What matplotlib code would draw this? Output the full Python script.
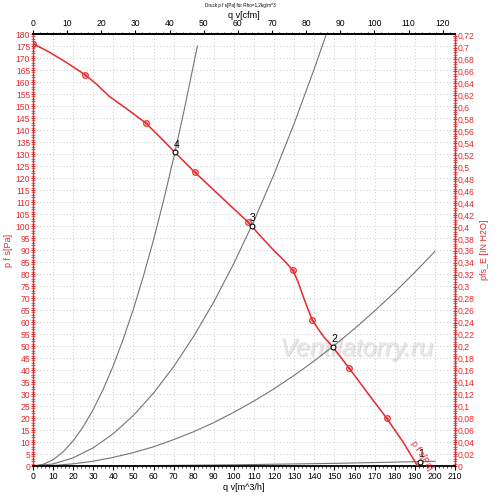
import matplotlib.pyplot as plt
import matplotlib.ticker as mticker
import matplotlib.patheffects as pe

plt.rcParams['font.family'] = ['Liberation Sans', 'DejaVu Sans']

# fan curve p f s [Pa] vs q v [m^3/h]
fan_q = [0, 8, 15, 26, 32, 38, 47, 56, 63, 70.6, 80.4, 94, 106.8, 113, 119.6, 124.5,
         129.4, 132, 134.5, 137, 139, 142, 145, 149.1, 157.4, 166, 176, 184, 191.4]
fan_p = [176, 172.5, 169, 163, 158.8, 154, 148.6, 143, 137.2, 130.7, 122.5, 111.8, 101.8,
         96, 90, 86, 81.5, 76.5, 70.5, 65, 60.8, 57, 53.5, 49.7, 40.7, 31, 19.9, 10.2, 0]
mark_q = [0, 26, 56, 80.4, 106.8, 129.4, 139, 157.4, 176]
mark_p = [176, 163, 143, 122.5, 101.8, 81.5, 60.8, 40.7, 19.9]

# system curves
sys4_q = [0, 5, 10, 15, 20, 25, 30, 35, 40, 45, 50, 55, 60, 65, 70, 75, 80, 81.8]
sys4_p = [0, 0.66, 2.6, 5.9, 10.5, 16.4, 23.6, 32.1, 41.9, 53.1, 65.5, 79.3, 94.3, 110.7, 128.4, 147.4, 167.7, 175]
sys3_q = [0, 10, 20, 30, 40, 50, 60, 70, 80, 90, 100, 110, 120, 130, 140, 146]
sys3_p = [0, 0.85, 3.4, 7.6, 13.5, 21.1, 30.4, 41.4, 54.1, 68.4, 84.5, 102.2, 121.7, 142.8, 165.6, 180]
sys2_q = [0, 10, 20, 30, 40, 50, 60, 70, 80, 90, 100, 110, 120, 130, 140, 150, 160, 170, 180, 190, 200]
sys2_p = [0, 0.2, 0.9, 2.0, 3.6, 5.6, 8.0, 11.0, 14.3, 18.1, 22.4, 27.1, 32.2, 37.8, 43.8, 50.3, 57.2, 64.6, 72.4, 80.7, 89.4]
sys1_q = [0, 50, 100, 150, 200]
sys1_p = [0, 0.12, 0.49, 1.1, 1.96]

# operating points
op_labels = ['1', '2', '3', '4']
op_q = [192.5, 149.1, 108.8, 70.6]
op_p = [1.8, 49.7, 100, 130.7]

RED = '#e8282b'
GREY = '#747474'
TICK_FS = 6.2

fig = plt.figure(figsize=(5.0, 4.98), dpi=100)
ax = fig.add_axes([33 / 500, 32 / 498, 422 / 500, 432 / 498])

ax.set_xlim(0, 210)
ax.set_ylim(0, 180)

for q, p in [(sys4_q, sys4_p), (sys3_q, sys3_p), (sys2_q, sys2_p), (sys1_q, sys1_p)]:
    ax.plot(q, p, color=GREY, lw=0.8, zorder=2)

ax.plot(fan_q, fan_p, color=RED, lw=1.1, zorder=3)
ax.plot(mark_q, mark_p, ls='none', marker='o', ms=4, mfc='none', mec=RED, mew=0.9, zorder=4)
ax.plot(mark_q, mark_p, ls='none', marker='.', ms=1.5, color=RED, zorder=4)

ax.plot(op_q, op_p, ls='none', marker='o', ms=3.5, mfc='white', mec='black', mew=0.8, zorder=5)
for lab, q, p in zip(op_labels, op_q, op_p):
    ax.annotate(lab, (q, p), xytext=(1, 2), textcoords='offset points',
                fontsize=7.5, color='black', ha='center', va='bottom', zorder=6)

ax.text(193.5, 4.5, 'p f s[Pa]', color=RED, fontsize=6.5, rotation=-57,
        ha='center', va='center', zorder=6)

# watermark
ax.text(161, 49, 'Ventilatorry.ru', color='#e8e8e8', fontsize=18, style='italic',
        ha='center', va='center', zorder=1,
        path_effects=[pe.withSimplePatchShadow(offset=(1, -1), shadow_rgbFace='#b0b0b0',
                                               alpha=0.4)])

# grid
ax.xaxis.set_major_locator(mticker.MultipleLocator(10))
ax.xaxis.set_minor_locator(mticker.MultipleLocator(2))
ax.yaxis.set_major_locator(mticker.MultipleLocator(5))
ax.yaxis.set_minor_locator(mticker.MultipleLocator(1))
ax.grid(True, which='major', color='#b8b8b8', lw=0.6, ls=(0, (1, 3)))

# spines
for s in ['top', 'bottom']:
    ax.spines[s].set_color('black')
    ax.spines[s].set_linewidth(1.3)
for s in ['left', 'right']:
    ax.spines[s].set_color(RED)
    ax.spines[s].set_linewidth(1.0)

ax.tick_params(axis='x', which='major', length=3, width=0.8, labelsize=TICK_FS, pad=1.5)
ax.tick_params(axis='x', which='minor', length=1.5, width=0.5)
ax.tick_params(axis='y', which='major', length=3, width=0.8, direction='inout',
               colors=RED, labelsize=TICK_FS, pad=0.5)
ax.tick_params(axis='y', which='minor', length=2.5, width=0.5, direction='inout', colors=RED)
ax.set_xlabel('q v[m^3/h]', fontsize=6.5, labelpad=1.5)
ax.set_ylabel('p f s[Pa]', fontsize=6.5, color=RED, labelpad=2)

# top axis in cfm
top = ax.secondary_xaxis('top', functions=(lambda q: q / 1.699, lambda c: c * 1.699))
top.xaxis.set_major_locator(mticker.MultipleLocator(10))
top.xaxis.set_minor_locator(mticker.MultipleLocator(2))
top.tick_params(which='major', length=3, width=0.8, labelsize=TICK_FS, pad=1.5)
top.tick_params(which='minor', length=1.5, width=0.5)
top.set_xlabel('q v[cfm]', fontsize=6.5, labelpad=0.5)
top.spines['top'].set_linewidth(1.3)

# right axis in inches of water
right = ax.secondary_yaxis('right', functions=(lambda p: p / 249.09, lambda w: w * 249.09))
right.yaxis.set_major_locator(mticker.MultipleLocator(0.02))
right.yaxis.set_minor_locator(mticker.MultipleLocator(0.004))
right.yaxis.set_major_formatter(
    mticker.FuncFormatter(lambda v, pos: ('%g' % round(v, 2)).replace('.', ',')))
right.tick_params(which='major', length=3, width=0.8, direction='inout', colors=RED,
                  labelsize=TICK_FS, pad=0.5)
right.tick_params(which='minor', length=2.5, width=0.5, direction='inout', colors=RED)
right.spines['right'].set_color(RED)
right.set_ylabel('pfs_E [IN H2O]', fontsize=6.5, color=RED, labelpad=4)

fig.text(0.48, 1 - 5 / 498, 'Druck p f s[Pa] für Rho=1,2kg/m^3', fontsize=3.3,
         ha='center', va='center')

fig.savefig('out.png', dpi=100)
